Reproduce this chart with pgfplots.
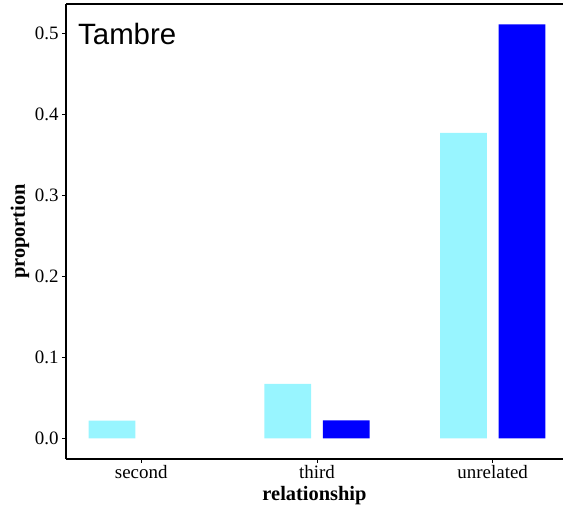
\documentclass[border=0pt]{standalone}
\usepackage{fontspec}
\setmainfont{Liberation Serif}
\newfontfamily\arialfont{Liberation Sans}
\usepackage{pgfplots}
\pgfplotsset{compat=1.18}
\definecolor{lightc}{HTML}{98F5FF}
\definecolor{darkb}{HTML}{0000FF}
\begin{document}
\begin{tikzpicture}
\begin{axis}[
  scale only axis,
  width=497bp, height=455bp,
  xmin=-0.428, xmax=2.40,
  ymin=-0.0256, ymax=0.536,
  axis x line*=bottom, axis y line*=left,
  axis line style={-, line width=1.1pt, black},
  xtick={0,1,2},
  xticklabels={second,third,unrelated},
  ytick={0,0.1,0.2,0.3,0.4,0.5},
  yticklabel style={/pgf/number format/fixed, /pgf/number format/fixed zerofill, /pgf/number format/precision=1},
  /pgf/number format/assume math mode=true,
  tick align=outside,
  major tick length=4bp,
  tick style={black, line width=0.8pt},
  ticklabel style={font=\fontsize{19}{22}\selectfont},
  xticklabel style={yshift=1bp},
  xlabel={relationship},
  ylabel={proportion},
  label style={font=\fontsize{20.5}{24}\selectfont\bfseries},
  xlabel style={at={(rel axis cs:0.5,-0.0923)}, anchor=base},
  ylabel style={at={(rel axis cs:-0.0825,0.5)}, anchor=base, rotate=0},
  clip=false,
]
\addplot[ybar, bar width=46.7bp, bar shift=-29.2bp, fill=lightc, draw=none]
  coordinates {(0,0.0217) (1,0.067) (2,0.377)};
\addplot[ybar, bar width=46.7bp, bar shift=29.2bp, fill=darkb, draw=none]
  coordinates {(1,0.022) (2,0.511)};
\draw[line width=1.1pt, black] (rel axis cs:0,1) -- (rel axis cs:1,1);
\node[anchor=base west, inner sep=0pt, font=\arialfont\fontsize{29.5}{33}\selectfont]
  at ([xshift=12bp, yshift=-41bp]rel axis cs:0,1) {Tambre};
\coordinate (bl) at ([xshift=-66bp, yshift=-53bp]rel axis cs:0,0);
\coordinate (tr) at ([yshift=4bp]rel axis cs:1,1);
\end{axis}
\pgfresetboundingbox
\path[use as bounding box] (bl) rectangle (tr);
\end{tikzpicture}
\end{document}
